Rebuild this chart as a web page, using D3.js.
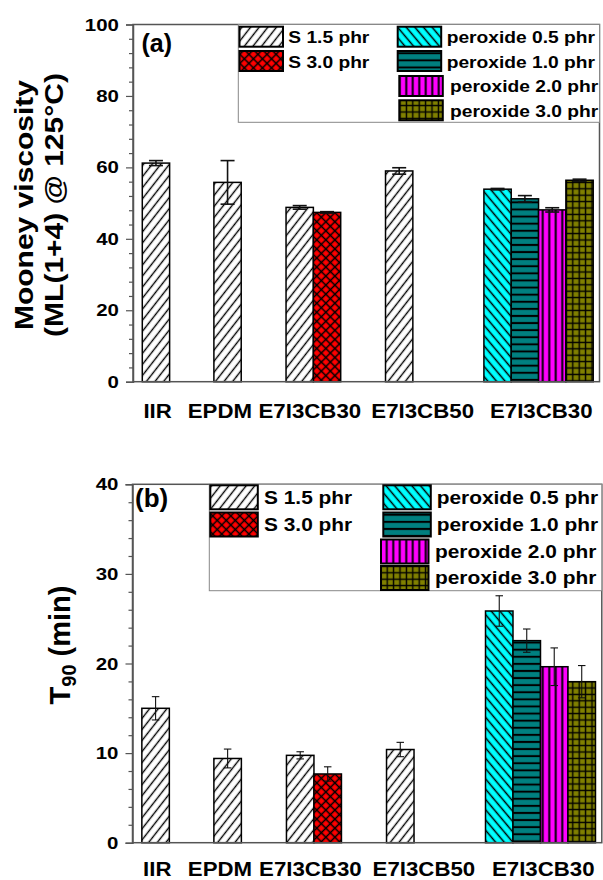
<!DOCTYPE html>
<html><head><meta charset="utf-8">
<script src="https://cdn.jsdelivr.net/npm/d3@7"></script>
<style>
html,body{margin:0;padding:0;background:#fff;}
svg{display:block;font-family:"Liberation Sans",Arial,sans-serif;font-weight:bold;}
</style></head>
<body>
<svg id="c" width="603" height="880"></svg>
<script>
// ---------- data ----------
const groupLabels = ["IIR", "EPDM", "E7I3CB30", "E7I3CB50", "E7I3CB30"];
const groupLabelX = [0.56, 2.84, 6.13, 10.26, 14.6];
const seriesNames = ["S 1.5 phr", "S 3.0 phr", "peroxide 0.5 phr", "peroxide 1.0 phr", "peroxide 2.0 phr", "peroxide 3.0 phr"];
const barSeries = [0, 0, 0, 1, 0, 2, 3, 4, 5];
const barX = [0.5, 3.12, 5.76, 6.76, 9.4, 13, 14, 15, 16];
const mooney = [61.2, 55.8, 48.8, 47.4, 59.0, 53.9, 51.2, 48.1, 56.4];
const mooneyErr = [0.7, 6.1, 0.5, 0.2, 0.9, 0.2, 0.9, 0.6, 0.3];
const t90 = [15.0, 9.4, 9.75, 7.67, 10.4, 25.86, 22.55, 19.64, 17.97];
const t90Err = [1.3, 1.05, 0.4, 0.8, 0.8, 1.7, 1.3, 2.1, 1.8];
const mooneyTicks = [0, 20, 40, 60, 80, 100];
const t90Ticks = [0, 10, 20, 30, 40];

const svg = d3.select("#c");
const defs = svg.append("defs");

// ---------- patterns ----------
function linePattern(id, bg, spacing, angle, sw, cross) {
  const p = defs.append("pattern").attr("id", id).attr("patternUnits", "userSpaceOnUse")
    .attr("width", spacing).attr("height", spacing)
    .attr("patternTransform", `rotate(${angle})`);
  p.append("rect").attr("width", spacing).attr("height", spacing).attr("fill", bg);
  p.append("line").attr("x1", -1).attr("x2", spacing + 1).attr("y1", spacing / 2).attr("y2", spacing / 2)
    .attr("stroke", "#000").attr("stroke-width", sw);
  if (cross) p.append("line").attr("y1", -1).attr("y2", spacing + 1).attr("x1", spacing / 2).attr("x2", spacing / 2)
    .attr("stroke", "#000").attr("stroke-width", sw);
}
linePattern("p0", "#fff", 6.8, -52, 1.4, false);
linePattern("p1", "#ff0000", 6.4, 45, 1.5, true);
linePattern("p2", "#00ffff", 6.6, 50, 1.5, false);
linePattern("p3", "#008080", 7.1, 0, 2, false);
linePattern("p4", "#ff00ff", 6.5, 90, 2, false);
linePattern("p5", "#808000", 6.4, 0, 1.4, true);
const fills = seriesNames.map((d, i) => `url(#p${i})`);

// text helper: stretched text
function txt(g, x, y, s, size, sx, anchor, rot) {
  const t = g.append("text")
    .attr("transform", `translate(${x},${y}) rotate(${rot || 0}) scale(${sx},1)`)
    .attr("font-size", size).attr("text-anchor", anchor || "start").attr("fill", "#000");
  t.text(s);
  return t;
}

function panel(cfg) {
  const g = svg.append("g");
  const x = d3.scaleLinear().domain([-0.34, 16.73]).range([cfg.left, cfg.right]);
  const y = d3.scaleLinear().domain([0, cfg.max]).range([cfg.bottom, cfg.top]);
  const bw = x(1) - x(0);

  // bars
  g.selectAll("rect.bar").data(cfg.values).join("rect")
    .attr("x", (d, i) => x(barX[i]) - bw / 2)
    .attr("y", d => y(d))
    .attr("width", bw)
    .attr("height", d => y(0) - y(d))
    .attr("fill", (d, i) => fills[barSeries[i]])
    .attr("stroke", "#000").attr("stroke-width", 1.5);

  // error bars
  const eg = g.append("g").attr("stroke", "#111").attr("stroke-width", cfg.errW);
  cfg.values.forEach((v, i) => {
    const cx = x(barX[i]), e = cfg.errs[i];
    eg.append("line").attr("x1", cx).attr("x2", cx).attr("y1", y(v + e)).attr("y2", y(v - e));
    [v + e, v - e].forEach(w => eg.append("line").attr("x1", cx - cfg.cap / 2).attr("x2", cx + cfg.cap / 2)
      .attr("y1", y(w)).attr("y2", y(w)));
  });

  // frame
  g.append("rect").attr("x", cfg.left).attr("y", cfg.top).attr("width", cfg.right - cfg.left)
    .attr("height", cfg.bottom - cfg.top).attr("fill", "none").attr("stroke", "#555").attr("stroke-width", 1.5);

  // y axis ticks
  const ax = g.append("g").attr("transform", `translate(${cfg.left},0)`);
  const minor = d3.range(0, cfg.max + 0.001, cfg.minorStep).filter(v => !cfg.ticks.includes(v));
  ax.call(d3.axisLeft(y).tickValues(minor).tickSize(4).tickFormat(""));
  ax.call(g2 => g2.select(".domain").remove());
  const ax2 = g.append("g").attr("transform", `translate(${cfg.left},0)`);
  ax2.call(d3.axisLeft(y).tickValues(cfg.ticks).tickSize(7).tickFormat(""));
  ax2.select(".domain").attr("stroke", "#555").attr("stroke-width", 1.5);
  g.selectAll(".tick line").attr("stroke", "#555").attr("stroke-width", 1.2);
  cfg.ticks.forEach(v => txt(g, cfg.left - 14, y(v) + 6, String(v), 16.5, 1.24, "end"));

  // x labels
  groupLabels.forEach((l, i) => txt(g, x(groupLabelX[i]), cfg.xLabY, l, 21, 1.06, "middle"));

  // legend
  const L = cfg.leg;
  g.append("rect").attr("x", L.x0).attr("y", cfg.top).attr("width", cfg.right - L.x0).attr("height", L.y1 - cfg.top)
    .attr("fill", "#fff").attr("stroke", "#888").attr("stroke-width", 1);
  seriesNames.forEach((s, i) => {
    const e = L.items[i];
    g.append("rect").attr("x", e[0]).attr("y", e[1]).attr("width", L.sw).attr("height", L.sh)
      .attr("fill", fills[i]).attr("stroke", "#000").attr("stroke-width", 2);
    txt(g, e[2], e[3], s, L.fs, L.sx, "start");
  });

  // panel label
  txt(g, cfg.tag[0], cfg.tag[1], cfg.tag[2], cfg.tag[3], 1, "start");
  return g;
}

panel({
  left: 133, right: 599.5, top: 24.5, bottom: 381.7, max: 100, minorStep: 4, ticks: mooneyTicks,
  values: mooney, errs: mooneyErr, cap: 14, errW: 1.6, xLabY: 418,
  tag: [141.5, 52, "(a)", 25],
  leg: { x0: 238.3, y1: 122.3, sw: 43.5, sh: 20, fs: 16, sx: 1.2,
    items: [[239.5, 26.7, 288.3, 43.3], [239.5, 51, 288.3, 67.7], [397.7, 26.7, 446.7, 43.3],
            [397.7, 51, 446.7, 67.7], [399.3, 76, 450, 92], [399.3, 100.3, 450, 116.5]] }
});

panel({
  left: 132.5, right: 601.8, top: 484.3, bottom: 842.7, max: 40, minorStep: 2, ticks: t90Ticks,
  values: t90, errs: t90Err, cap: 7.5, errW: 1.1, xLabY: 875.5,
  tag: [135, 507, "(b)", 26],
  leg: { x0: 209.3, y1: 590.7, sw: 47.5, sh: 24, fs: 18.5, sx: 1.13,
    items: [[210.3, 485.3, 264, 504], [210.3, 512.5, 264, 530.5], [383.3, 485.3, 436.7, 504],
            [383.3, 512.5, 436.7, 530.5], [381, 539.5, 435, 557.5], [381, 566, 435, 584]] }
});

// axis titles
const t1 = svg.append("g");
txt(t1, 33, 205, "Mooney viscosity", 25, 1.2, "middle", -90);
txt(t1, 63, 205, "(ML(1+4) @ 125\u00B0C)", 25, 1.2, "middle", -90);
const tt = svg.append("text").attr("transform", "translate(70,645) rotate(-90)")
  .attr("font-size", 29).attr("text-anchor", "middle").attr("fill", "#000");
tt.append("tspan").text("T");
tt.append("tspan").attr("font-size", 20).attr("dy", 6).text("90");
tt.append("tspan").attr("dy", -6).text(" (min)");
</script>
</body></html>
